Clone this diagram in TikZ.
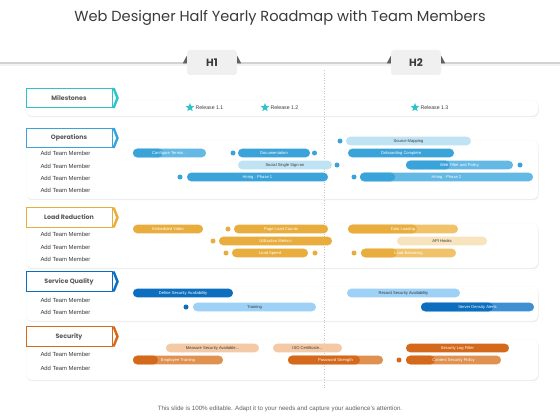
\documentclass[tikz,border=0pt]{standalone}
\usepackage{fontspec}
\setmainfont{Liberation Sans}
\newfontfamily\headfont{Poppins}
\usepackage{tikz}
\usetikzlibrary{positioning, shapes.geometric, calc, shadows}

\definecolor{msCol}{HTML}{2EC3CB}
\definecolor{opsDark}{HTML}{3AA3D9}
\definecolor{opsMid}{HTML}{63B8E4}
\definecolor{opsLight}{HTML}{C0E3F3}
\definecolor{ldDark}{HTML}{E8AD3D}
\definecolor{ldMid}{HTML}{F0C36A}
\definecolor{ldLight}{HTML}{F7E3BE}
\definecolor{sqDark}{HTML}{0B6EBE}
\definecolor{sqMid}{HTML}{3E90D2}
\definecolor{sqLight}{HTML}{9ED1F6}
\definecolor{scDark}{HTML}{D4691B}
\definecolor{scMid}{HTML}{E0914F}
\definecolor{scLight}{HTML}{F4C9A6}
\definecolor{ink}{HTML}{3A3A3A}

\begin{document}
\begin{tikzpicture}[
    x=1pt, y=-1pt,
    panel/.style={fill=white, draw=gray!8, rounded corners=5pt,
                drop shadow={shadow xshift=0.6pt, shadow yshift=-1.2pt, opacity=0.16}},
    lbl/.style={rectangle, draw=#1, fill=white, line width=0.6pt,
                minimum width=86pt, minimum height=19.5pt, inner sep=0pt,
                font=\headfont\bfseries\fontsize{6.3}{7}\selectfont, text=ink!85},
    member/.style={anchor=west, font=\fontsize{5.9}{7}\selectfont, text=ink},
    bar/.style={rectangle, rounded corners=4.2pt, fill=#1, minimum height=8.6pt,
                inner sep=0pt, font=\fontsize{4.1}{4.8}\selectfont, text=white},
    lightbar/.style={bar=#1, text=ink},
    part/.style 2 args={path picture={\fill[#1] (path picture bounding box.south west)
                rectangle ([xshift=#2pt]path picture bounding box.north west);}},
    dot/.style={circle, fill=#1, minimum size=5pt, inner sep=0pt},
    tab/.style={rectangle, rounded corners=3pt, fill=gray!12, minimum width=50pt,
                minimum height=25pt, font=\headfont\bfseries\fontsize{10.5}{12}\selectfont, text=ink},
    star5/.style={star, star points=5, star point ratio=2.3, fill=msCol,
                minimum size=9pt, inner sep=0pt},
    rel/.style={font=\fontsize{5.2}{6}\selectfont, text=ink, inner sep=0pt},
]
\useasboundingbox (0,0) rectangle (560,420);

% Title
\node[font=\headfont\fontsize{14.6}{17}\selectfont, text=ink] (title) at (280,18)
    {Web Designer Half Yearly Roadmap with Team Members};

% Top line and half-year tabs
\draw[line width=2.2pt, gray!10] (0,64.8) -- (560,64.8);
\draw[line width=1.2pt, gray!35] (0,63) -- (560,63);
\node[tab] (h1) at (212,62.5) {H1};
\node[tab] (h2) at (416,62.5) {H2};
\foreach \h in {h1,h2} {
    \fill[gray!75!black] ($(\h.north west)+(0,6)$) -- ++(-4,7.5) -- ++(4,0) -- cycle;
    \fill[gray!75!black] ($(\h.north east)+(0,6)$) -- ++(4,7.5) -- ++(-4,0) -- cycle;
}

% Panels
\fill[panel] (26,100) rectangle (538,116);
\fill[panel] (26,140) rectangle (538,199);
\fill[panel] (26,223) rectangle (538,268);
\fill[panel] (26,286) rectangle (538,321);
\fill[panel] (26,339) rectangle (538,380);

% Half-year divider
\draw[dotted, gray!45, line width=0.6pt] (324,70) -- (324,388);

% Section labels
\node[lbl=msCol] (ms) at (69,98) {Milestones};
\node[lbl=opsDark] (ops) at (69,138) {Operations};
\node[lbl=ldDark] (ld) at (69,217.5) {Load Reduction};
\node[lbl=sqDark] (sq) at (69,281.5) {Service Quality};
\node[lbl=scDark] (sc) at (69,336.5) {Security};
\foreach \n/\c in {ms/msCol, ops/opsDark, ld/ldDark, sq/sqDark, sc/scDark} {
    \fill[\c] (\n.north east) -- ++(2.5,0) -- ($(\n.east)+(6.5,0)$)
        -- ($(\n.south east)+(2.5,0)$) -- (\n.south east) -- ($(\n.east)+(3.8,0)$) -- cycle;
}

% Team members
\foreach \y/\n in {153/m1, 166/m2, 178/m3, 190/m4, 234/m5, 247/m6, 259/m7,
                   300/m8, 312/m9, 354/m10, 368/m11} {
    \node[member] (\n) at (37,\y) {Add Team Member};
}

% Milestones
\node[star5] (st1) at (190,107.5) {};
\node[star5] (st2) at (265,107.5) {};
\node[star5] (st3) at (415,107.5) {};
\node[rel, right=2.5pt of st1] (rel1) {Release 1.1};
\node[rel, right=2.5pt of st2] (rel2) {Release 1.2};
\node[rel, right=2.5pt of st3] (rel3) {Release 1.3};

% Operations
\node[bar=opsMid, part={opsDark}{30}, minimum width=73pt] (o1) at (169.5,153) {Configure Termin...};
\node[dot=opsDark] (o2a) at (233,153) {};
\node[bar=opsDark, minimum width=72pt] (o2) at (274,153) {Documentation};
\node[dot=opsDark] (o2b) at (314.5,153) {};
\node[lightbar=opsLight, minimum width=94pt] (o3) at (285,165) {Social Single Sign-on};
\node[dot=opsDark] (o3b) at (337,165) {};
\node[dot=opsDark] (o4a) at (180,177) {};
\node[bar=opsDark, minimum width=141pt] (o4) at (257.5,177) {Hiring : Phase 1};
\node[dot=opsDark] (o5a) at (340,141) {};
\node[lightbar=opsLight, minimum width=125pt] (o5) at (408.5,141) {Source Mapping};
\node[bar=opsDark, minimum width=106pt] (o6) at (401,153) {Onboarding Complete};
\node[bar=opsMid, part={opsDark}{44}, minimum width=107pt] (o7) at (459.5,165) {Web Filter and Policy};
\node[dot=opsDark] (o7b) at (520,165) {};
\node[dot=opsDark] (o8a) at (354,177) {};
\node[bar=opsMid, part={opsDark}{35}, minimum width=173pt] (o8) at (446.5,177) {Hiring : Phase 2};

% Load Reduction
\node[bar=ldDark, minimum width=70pt] (l1) at (168,229) {Embedded Video};
\node[dot=ldDark] (l2a) at (228,229) {};
\node[bar=ldDark, minimum width=94pt] (l2) at (281,229) {Page Load Counts};
\node[dot=ldDark] (l3a) at (213,241) {};
\node[bar=ldDark, minimum width=113pt] (l3) at (275.5,241) {Utilization Metrics};
\node[dot=ldDark] (l4a) at (226,253) {};
\node[bar=ldDark, minimum width=76pt] (l4) at (270,253) {Load Speed};
\node[dot=ldDark] (l4b) at (315,253) {};
\node[bar=ldMid, part={ldDark}{69}, minimum width=110pt] (l5) at (403,229) {Data Loading};
\node[lightbar=ldLight, minimum width=90pt] (l6) at (442,241) {API Hooks};
\node[dot=ldDark] (l7a) at (354,253) {};
\node[bar=ldMid, part={ldDark}{36}, minimum width=95pt] (l7) at (408.5,253) {Load Balancing};

% Service Quality
\node[bar=sqDark, minimum width=100pt] (s1) at (183,293) {Define Security Availability};
\node[dot=sqDark] (s2a) at (186,307) {};
\node[lightbar=sqLight, minimum width=123pt] (s2) at (254.5,307) {Training};
\node[lightbar=sqLight, minimum width=113pt] (s3) at (403.5,293) {Record Security Availability};
\node[bar=sqMid, part={sqDark}{72}, minimum width=113pt] (s4) at (477.5,307) {Server Density Alerts};

% Security
\node[lightbar=scLight, minimum width=93pt] (c1) at (212.5,348) {Measure Security Available...};
\node[lightbar=scLight, minimum width=69pt] (c2) at (307.5,348) {ISO Certificate...};
\node[bar=scMid, part={scDark}{25}, minimum width=90pt] (c3) at (178,360) {Employee Training};
\node[bar=scMid, part={scDark}{72}, minimum width=95pt] (c4) at (335.5,360) {Password Strength};
\node[bar=scDark, minimum width=103pt] (c5) at (457.5,348) {Security Log Filter};
\node[dot=scDark] (c6a) at (399,360) {};
\node[bar=scMid, part={scDark}{29}, minimum width=95pt] (c6) at (453.5,360) {Content Security Policy};

% Footer
\node[font=\fontsize{6.2}{7}\selectfont, text=gray!75!black] (foot) at (280,409)
    {This slide is 100\% editable. Adapt it to your needs and capture your audience's attention.};

\end{tikzpicture}
\end{document}
